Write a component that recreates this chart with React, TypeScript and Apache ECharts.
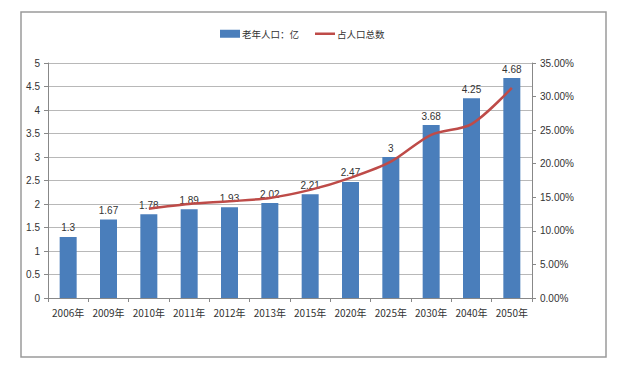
import React, { useEffect, useRef } from "react";
import * as echarts from "echarts";

const years = ["2006年", "2009年", "2010年", "2011年", "2012年", "2013年", "2015年", "2020年", "2025年", "2030年", "2040年", "2050年"];
const elderly = [1.3, 1.67, 1.78, 1.89, 1.93, 2.02, 2.21, 2.47, 3, 3.68, 4.25, 4.68];
const sharePct = [null, null, 13.3, 14.0, 14.4, 14.9, 16.1, 17.9, 20.3, 24.3, 25.9, 31.3];
const leftTicks = { min: 0, max: 5, interval: 0.5 };
const rightTicks = { min: 0, max: 35, interval: 5 };

export default function App() {
  const ref = useRef<HTMLDivElement>(null);
  useEffect(() => {
    if (!ref.current) return;
    const chart = echarts.init(ref.current, null, { renderer: "svg" });
    const font = "'Liberation Sans', 'Noto Sans CJK SC', sans-serif";
    chart.setOption({
      animation: false,
      backgroundColor: "#fff",
      textStyle: { fontFamily: font },
      graphic: [
        {
          type: "rect",
          shape: { x: 21, y: 12, width: 585, height: 345 },
          style: { fill: "none", stroke: "#9a9a9a", lineWidth: 1.5 },
          z: 0,
        },
      ],
      legend: {
        top: 24,
        left: 215,
        itemGap: 16,
        itemWidth: 20,
        itemHeight: 8,
        symbolKeepAspect: true,
        textStyle: { fontSize: 9.5, color: "#333", fontFamily: "'Noto Sans CJK SC', sans-serif", padding: [0, 0, 0, -3] },
        data: [
          { name: "老年人口：亿", icon: "rect" },
          { name: "占人口总数", icon: "path://M0,0 L20,0 L20,2.5 L0,2.5 Z", itemStyle: { color: "#be4b48" } },
        ],
      },
      grid: { left: 48, right: 108, top: 63, bottom: 71, containLabel: false },
      xAxis: {
        type: "category",
        data: years,
        axisLine: { lineStyle: { color: "#888" } },
        axisTick: { show: true, alignWithLabel: false, lineStyle: { color: "#888" }, length: 4 },
        axisLabel: { fontSize: 10, color: "#333", margin: 9, interval: 0, fontFamily: "'Noto Sans CJK SC', sans-serif" },
      },
      yAxis: [
        {
          type: "value",
          ...leftTicks,
          axisLine: { show: true, lineStyle: { color: "#888" } },
          axisTick: { show: true, length: 4, lineStyle: { color: "#888" } },
          splitLine: { lineStyle: { color: "#b8b8b8", width: 1 } },
          axisLabel: { fontSize: 10, color: "#333", margin: 8 },
        },
        {
          type: "value",
          ...rightTicks,
          position: "right",
          axisLine: { show: true, lineStyle: { color: "#888" } },
          axisTick: { show: true, length: 4, lineStyle: { color: "#888" } },
          splitLine: { show: false },
          axisLabel: {
            fontSize: 10,
            color: "#333",
            margin: 8,
            formatter: (v: number) => v.toFixed(2) + "%",
          },
        },
      ],
      series: [
        {
          name: "老年人口：亿",
          type: "bar",
          data: elderly,
          barWidth: 17,
          itemStyle: { color: "#4a7ebb" },
          label: { show: true, position: "top", fontSize: 10, color: "#333", distance: 4 },
        },
        {
          name: "占人口总数",
          type: "line",
          yAxisIndex: 1,
          data: sharePct,
          smooth: 0.3,
          showSymbol: false,
          symbol: "none",
          lineStyle: { color: "#be4b48", width: 2.5 },
          itemStyle: { color: "#be4b48" },
        },
      ],
    });
    return () => chart.dispose();
  }, []);
  return <div ref={ref} style={{ position: "fixed", left: 0, top: 0, width: 640, height: 369 }} />;
}
